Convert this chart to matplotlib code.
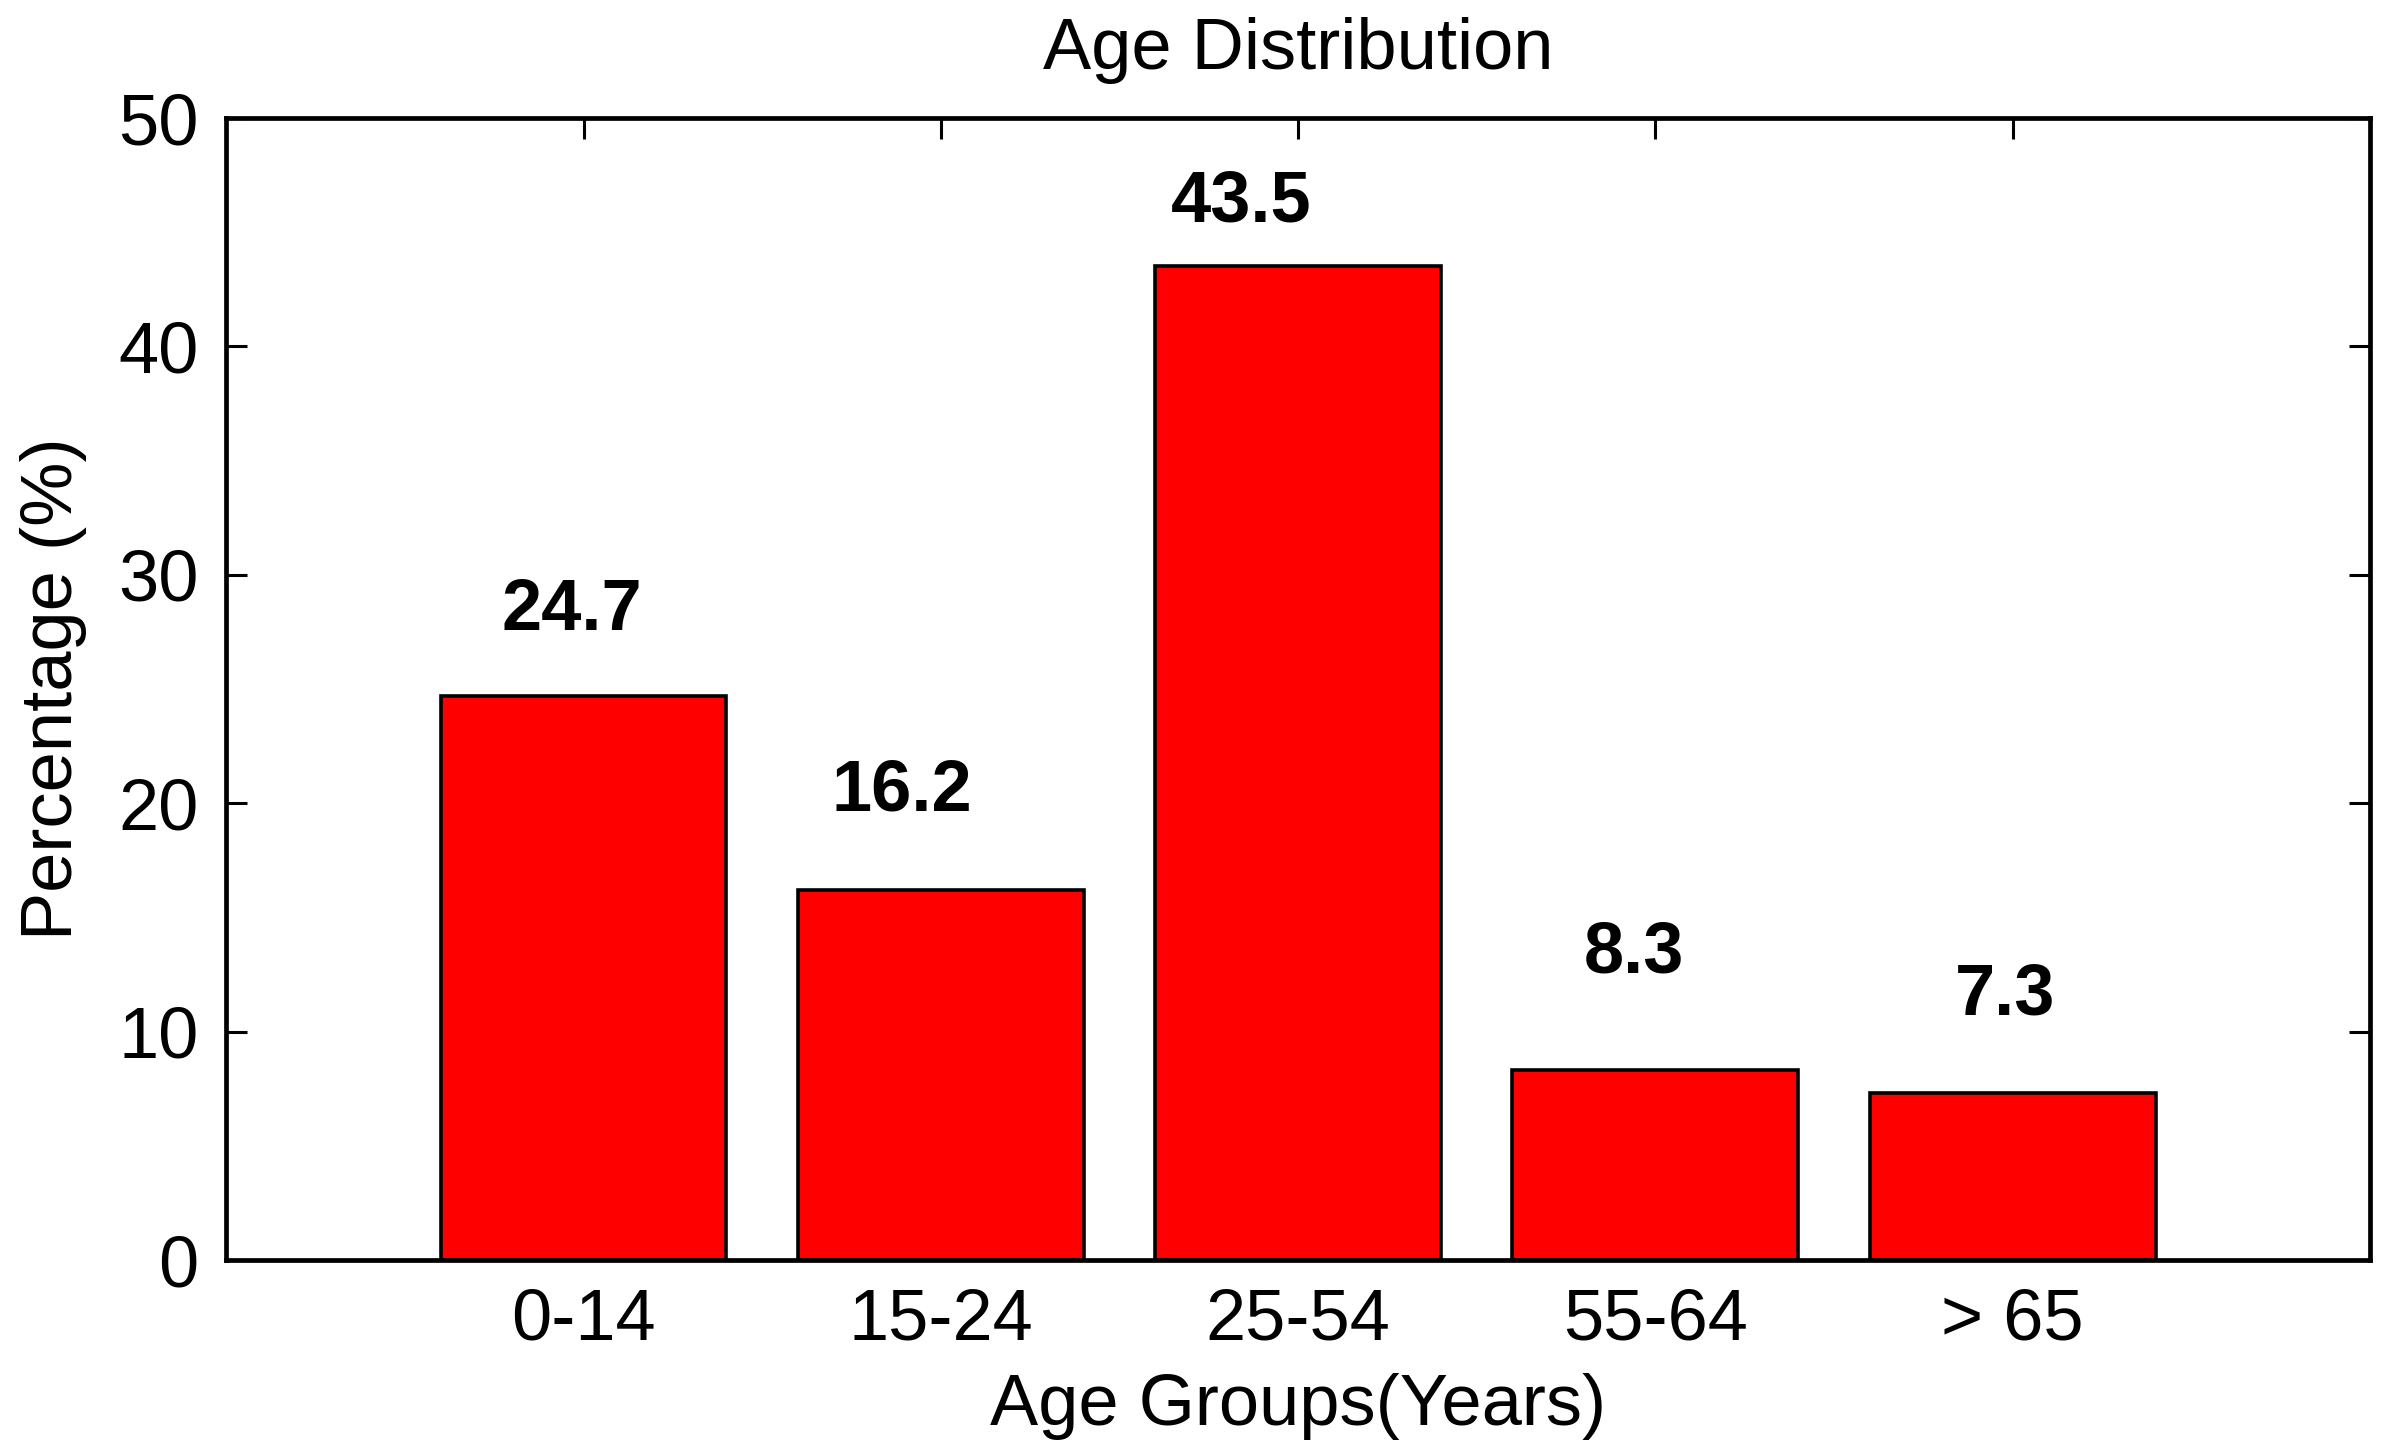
import matplotlib
matplotlib.use("Agg")
import matplotlib.pyplot as plt

categories = ["0-14", "15-24", "25-54", "55-64", "> 65"]
values = [24.7, 16.2, 43.5, 8.3, 7.3]
yticks = [0, 10, 20, 30, 40, 50]

# label placement offsets (style, in data units)
label_dx = [-0.034, -0.11, -0.16, -0.06, -0.02]
label_dy = [3.7, 4.3, 2.8, 5.1, 4.3]

plt.rcParams['font.family'] = ['Liberation Sans', 'DejaVu Sans']

fig = plt.figure(figsize=(23.95, 14.55), dpi=100)
ax = fig.add_axes([0.0945, 0.1340, 0.8950, 0.7849])

pos = list(range(1, len(values) + 1))
ax.bar(pos, values, width=0.8, color='#ff0000', edgecolor='black', linewidth=2.6, zorder=2)

for p, v, dx, dy in zip(pos, values, label_dx, label_dy):
    ax.text(p + dx, v + dy, f"{v:.1f}", ha='center', va='center',
            fontsize=52, fontweight='bold', color='black')

ax.set_xlim(0, 6)
ax.set_ylim(0, 50)
ax.set_xticks(pos)
ax.set_xticklabels(categories)
ax.set_yticks(yticks)

ax.tick_params(axis='both', which='major', direction='in', length=15, width=2.2,
               labelsize=52, top=True, right=True, pad=20, color='black')
for s in ax.spines.values():
    s.set_linewidth(3.4)
    s.set_color('black')

ax.set_title("Age Distribution", fontsize=52, pad=35)
ax.set_xlabel("Age Groups(Years)", fontsize=52)
ax.set_ylabel("Percentage (%)", fontsize=52)
ax.xaxis.set_label_coords(0.5, -0.128)
ax.xaxis.label.set_va('center')
ax.yaxis.set_label_coords(-0.0805, 0.5)
ax.yaxis.label.set_va('center')

fig.savefig("out.png", dpi=100, facecolor='white')
